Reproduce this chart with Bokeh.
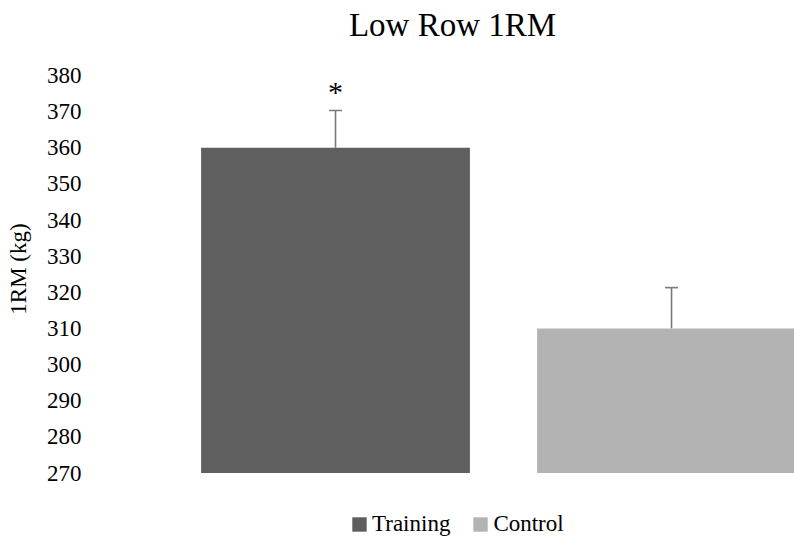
from bokeh.plotting import figure
from bokeh.models import (ColumnDataSource, Range1d, Whisker, TeeHead, Legend,
                          LegendItem, FixedTicker, Label)
from bokeh.core.properties import value
from bokeh.embed import file_html
from bokeh.resources import INLINE

title_text = "Low Row 1RM"
y_label = "1RM (kg)"
groups = ["Training", "Control"]
means = [360, 310]
errors = [10.3, 11.3]
colors = ["#5f5f5f", "#b3b3b3"]
y_ticks = [270, 280, 290, 300, 310, 320, 330, 340, 350, 360, 370, 380]
sig_marks = ["*", ""]

FONT = "Liberation Serif"
W, H = 794, 537
FRAME_TOP, FRAME_BOTTOM = 75, 472.5        # pixel rows of 380 and 270
y_lo, y_hi = y_ticks[0], y_ticks[-1]
ppu = (FRAME_BOTTOM - FRAME_TOP) / (y_hi - y_lo)
y_start = y_lo - (H - FRAME_BOTTOM) / ppu
y_end = y_hi + FRAME_TOP / ppu

xs = list(range(len(groups)))
upper = [m + e for m, e in zip(means, errors)]
src = ColumnDataSource(dict(x=xs, top=means, upper=upper, color=colors,
                            name=groups, mark=sig_marks))

p = figure(width=W, height=H, output_backend="svg", toolbar_location=None,
           x_range=Range1d(-0.5, 1.366), y_range=Range1d(y_start, y_end),
           min_border_left=167, min_border_right=0, min_border_top=0,
           min_border_bottom=0)

bars = []
for i in xs:
    s = ColumnDataSource(dict(x=[xs[i]], top=[means[i]]))
    r = p.vbar(x="x", top="top", bottom=y_lo, width=0.8, source=s,
               fill_color=colors[i], line_color=None)
    bars.append(r)

w = Whisker(base="x", upper="upper", lower="top", source=src, dimension="height",
            line_color="#7a7a7a", line_width=1.6,
            upper_head=TeeHead(size=13, line_color="#7a7a7a", line_width=1.6),
            lower_head=None)
p.add_layout(w)

p.text(x="x", y="upper", text="mark", source=src, text_align="center",
       text_baseline="bottom", y_offset=-3, text_font=value(FONT),
       text_font_size="30px", text_color="#000000")

p.xaxis.visible = False
p.xgrid.visible = False
p.ygrid.visible = False
p.outline_line_color = None

ya = p.yaxis[0]
ya.bounds = (y_lo, y_hi)
ya.ticker = FixedTicker(ticks=y_ticks)
ya.axis_line_color = None
ya.major_tick_line_color = None
ya.minor_tick_line_color = None
ya.major_tick_out = 0
ya.major_tick_in = 0
ya.major_label_standoff = 86
ya.major_label_text_font = FONT
ya.major_label_text_font_style = "normal"
ya.major_label_text_font_size = "23px"
ya.major_label_text_color = "#000000"
ya.axis_label = y_label
ya.axis_label_standoff = 13
ya.axis_label_text_font = FONT
ya.axis_label_text_font_size = "23px"
ya.axis_label_text_font_style = "normal"
ya.axis_label_text_color = "#000000"

title = Label(x=285, y=H - 42, x_units="screen", y_units="screen",
              text=title_text, text_align="center", text_baseline="bottom",
              text_font=FONT, text_font_size="33px", text_color="#000000")
p.add_layout(title)

legend = Legend(items=[LegendItem(label=groups[i], renderers=[bars[i]]) for i in xs],
                orientation="horizontal", location=(183, 0),
                glyph_width=18, glyph_height=18, label_standoff=4, spacing=21,
                padding=0, margin=0, border_line_color=None,
                background_fill_alpha=0,
                label_text_font=FONT, label_text_font_style="normal",
                label_text_font_size="23px", label_text_color="#000000")
p.add_layout(legend, "center")

open("out.html", "w").write(file_html(p, INLINE))
